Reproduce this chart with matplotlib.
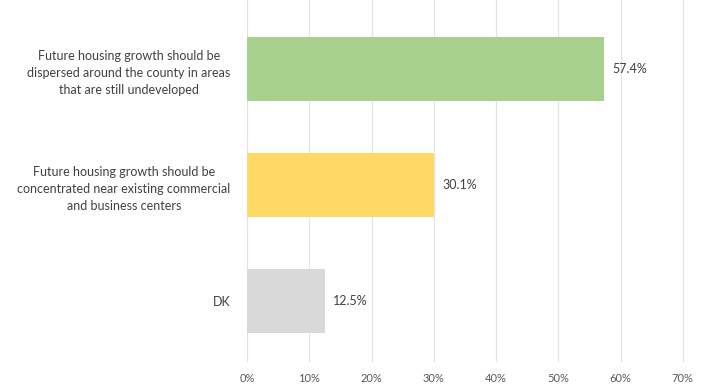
import matplotlib.pyplot as plt

labels = [
    "Future housing growth should be\ndispersed around the county in areas\nthat are still undeveloped",
    "Future housing growth should be\nconcentrated near existing commercial\nand business centers",
    "DK",
]
values = [57.4, 30.1, 12.5]
colors = ["#A9D18E", "#FFD966", "#D9D9D9"]
ticks = [0, 10, 20, 30, 40, 50, 60, 70]

plt.rcParams['font.family'] = ['Lato', 'DejaVu Sans']

fig = plt.figure(figsize=(7.16, 3.88), dpi=100)
ax = fig.add_axes([0.345, 0.067, 0.613, 0.933])

pos = list(range(len(values)))
ax.barh(pos, values, height=0.55, color=colors, zorder=3)

for p, v in zip(pos, values):
    ax.text(v + 1.3, p, f"{v}%", va="center", ha="left", fontsize=9, color="#404040")

ax.set_xlim(0, 70.5)
ax.set_ylim(2.526, -0.595)
ax.set_xticks(ticks)
ax.set_xticklabels([f"{t}%" for t in ticks], fontsize=8, color="#595959")
ax.set_yticks(pos)
ax.set_yticklabels(labels, fontsize=9, color="#404040", multialignment="center",
                   linespacing=1.5)
ax.tick_params(axis="both", length=0)
ax.tick_params(axis="y", pad=12)
ax.tick_params(axis="x", pad=8)
ax.grid(axis="x", color="#E3E3E3", linewidth=0.9, zorder=0)
for s in ax.spines.values():
    s.set_visible(False)

fig.savefig("out.png", dpi=100)
